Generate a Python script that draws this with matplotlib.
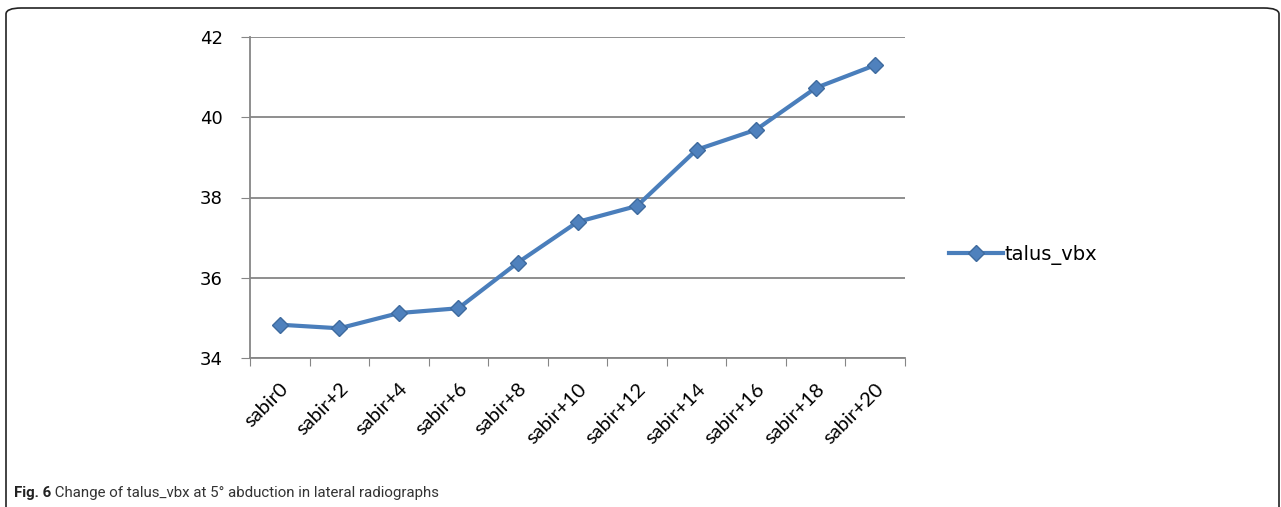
import matplotlib.pyplot as plt
from matplotlib.patches import FancyBboxPatch

plt.rcParams['font.family'] = ['Lato', 'DejaVu Sans']

categories = ['sabir0', 'sabir+2', 'sabir+4', 'sabir+6', 'sabir+8', 'sabir+10',
              'sabir+12', 'sabir+14', 'sabir+16', 'sabir+18', 'sabir+20']
talus_vbx = [34.83, 34.74, 35.12, 35.24, 36.38, 37.39, 37.79, 39.19, 39.69, 40.73, 41.30]
y_ticks = [34, 36, 38, 40, 42]

fig = plt.figure(figsize=(12.81, 5.07), dpi=100)
ax = fig.add_axes([250 / 1281, 1 - 358 / 507, 655 / 1281, 321 / 507])

x = list(range(len(categories)))
ax.plot(x, talus_vbx, color='#4A7EBB', linewidth=3, marker='D', markersize=8,
        markerfacecolor='#4F81BD', markeredgecolor='#3E6A9E', markeredgewidth=1,
        label='talus_vbx', zorder=3)

ax.set_xlim(-0.5, len(categories) - 0.5)
ax.set_ylim(34, 42)
ax.set_yticks(y_ticks)
ax.set_yticklabels([str(v) for v in y_ticks], family=['DejaVu Sans'], fontsize=13)
ax.set_xticks([i - 0.5 for i in range(len(categories) + 1)], minor=False)
ax.set_xticklabels([])
ax.set_xticks(x, minor=True)
ax.set_xticklabels(categories, minor=True, rotation=45, ha='right',
                   rotation_mode='anchor', fontsize=14.5)
ax.tick_params(axis='x', which='minor', length=0, pad=16)
ax.tick_params(axis='x', which='major', length=6, color='#868686', direction='out')
ax.tick_params(axis='y', length=6.5, color='#868686', pad=13)

ax.grid(axis='y', color='#868686', linewidth=1.3)
for side in ['top', 'right']:
    ax.spines[side].set_visible(False)
ax.spines['left'].set_color('#868686')
ax.spines['bottom'].set_color('#868686')
ax.spines['left'].set_linewidth(1.3)
ax.spines['bottom'].set_linewidth(1.3)
ax.set_axisbelow(True)

ax.legend(loc='center left', bbox_to_anchor=(1.04, 0.32), frameon=False,
          prop={'family': 'DejaVu Sans', 'size': 14},
          handlelength=2.8, handletextpad=0.05)

# rounded frame around the figure
frame = FancyBboxPatch((6 / 1281, -0.05), 1 - 8 / 1281, 1 - 8 / 507 + 0.05,
                       boxstyle='round,pad=0,rounding_size=0.012',
                       transform=fig.transFigure, fill=False,
                       edgecolor='#222222', linewidth=1.2)
fig.patches.append(frame)

cap_font = ['Roboto', 'DejaVu Sans']
fig_lbl = fig.text(14 / 1281, 1 - 493 / 507, 'Fig. 6', fontsize=10.8, va='center',
                   fontweight='bold', family=cap_font, color='#222222')
ax.annotate(' Change of talus_vbx at 5° abduction in lateral radiographs',
            xy=(1, 0.5), xycoords=fig_lbl, va='center', ha='left',
            fontsize=10.8, family=cap_font, color='#333333', annotation_clip=False)

fig.savefig('out.png', dpi=100)
